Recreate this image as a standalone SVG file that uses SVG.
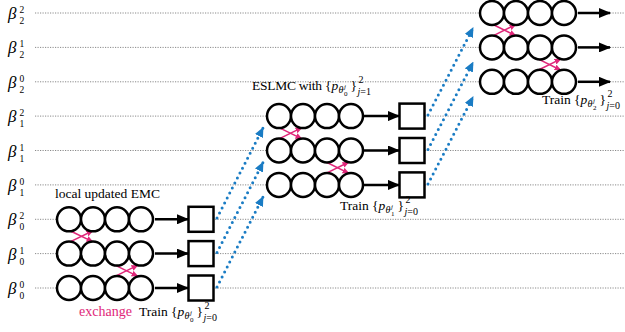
<svg xmlns="http://www.w3.org/2000/svg" width="625" height="332" viewBox="0 0 625 332">
  <style>
    text { font-family: "Liberation Serif", "DejaVu Serif", "Times New Roman", serif; fill: #000; }
    .lbl { font-size: 13.5px; }
    .it { font-style: italic; }
    .b { font-size: 17px; font-style: italic; }
    .bs { font-size: 9.5px; }
    .s { font-size: 10px; }
    .ss { font-size: 7px; }
    .ex { fill: #e0287a; font-size: 14px; }
    .grid { stroke: #8a8a8a; stroke-width: 1; stroke-dasharray: 1.2 1.3; fill: none; }
    .ch circle { fill: #fff; stroke: #000; stroke-width: 2.5; }
    .box { fill: #fff; stroke: #000; stroke-width: 2.5; }
    .go { stroke: #000; stroke-width: 2.5; fill: none; marker-end: url(#blk); }
    .xch { stroke: #e0287a; stroke-width: 1.6; fill: none; marker-end: url(#pnk); }
    .mv { stroke: #1a7cc4; stroke-width: 3; stroke-linecap: round; stroke-dasharray: 0 5.6; fill: none; marker-end: url(#blu); }
  </style>
  <defs>
    <marker id="blk" markerUnits="userSpaceOnUse" markerWidth="12" markerHeight="10" refX="11" refY="5" orient="auto">
      <path d="M0,0 L12,5 L0,10 z" fill="#000"/>
    </marker>
    <marker id="pnk" markerUnits="userSpaceOnUse" markerWidth="7" markerHeight="6" refX="6.5" refY="3" orient="auto">
      <path d="M0,0 L7,3 L0,6 z" fill="#e0287a"/>
    </marker>
    <marker id="blu" markerUnits="userSpaceOnUse" markerWidth="10" markerHeight="9" refX="9" refY="4.5" orient="auto">
      <path d="M0,0 L10,4.5 L0,9 z" fill="#1a7cc4"/>
    </marker>
  </defs>

  <!-- temperature levels -->
  <g id="levels">
    <line class="grid" x1="35" y1="13" x2="625" y2="13"/>
    <line class="grid" x1="35" y1="47.4" x2="625" y2="47.4"/>
    <line class="grid" x1="35" y1="81.8" x2="625" y2="81.8"/>
    <line class="grid" x1="35" y1="116.1" x2="625" y2="116.1"/>
    <line class="grid" x1="35" y1="150.5" x2="625" y2="150.5"/>
    <line class="grid" x1="35" y1="184.9" x2="625" y2="184.9"/>
    <line class="grid" x1="35" y1="219.3" x2="625" y2="219.3"/>
    <line class="grid" x1="35" y1="253.6" x2="625" y2="253.6"/>
    <line class="grid" x1="35" y1="288" x2="625" y2="288"/>
    <g transform="translate(0,13)"><text class="b" x="8" y="6">β</text><text class="bs" x="19.5" y="0">2</text><text class="bs" x="19.5" y="11">2</text></g>
    <g transform="translate(0,47.4)"><text class="b" x="8" y="6">β</text><text class="bs" x="19.5" y="0">1</text><text class="bs" x="19.5" y="11">2</text></g>
    <g transform="translate(0,81.8)"><text class="b" x="8" y="6">β</text><text class="bs" x="19.5" y="0">0</text><text class="bs" x="19.5" y="11">2</text></g>
    <g transform="translate(0,116.1)"><text class="b" x="8" y="6">β</text><text class="bs" x="19.5" y="0">2</text><text class="bs" x="19.5" y="11">1</text></g>
    <g transform="translate(0,150.5)"><text class="b" x="8" y="6">β</text><text class="bs" x="19.5" y="0">1</text><text class="bs" x="19.5" y="11">1</text></g>
    <g transform="translate(0,184.9)"><text class="b" x="8" y="6">β</text><text class="bs" x="19.5" y="0">0</text><text class="bs" x="19.5" y="11">1</text></g>
    <g transform="translate(0,219.3)"><text class="b" x="8" y="6">β</text><text class="bs" x="19.5" y="0">2</text><text class="bs" x="19.5" y="11">0</text></g>
    <g transform="translate(0,253.6)"><text class="b" x="8" y="6">β</text><text class="bs" x="19.5" y="0">1</text><text class="bs" x="19.5" y="11">0</text></g>
    <g transform="translate(0,288)"><text class="b" x="8" y="6">β</text><text class="bs" x="19.5" y="0">0</text><text class="bs" x="19.5" y="11">0</text></g>
  </g>

  <!-- connectors -->
  <g id="connectors">
    <!-- chain to model -->
    <line class="go" x1="155" y1="219.3" x2="188" y2="219.3"/>
    <line class="go" x1="155" y1="253.6" x2="188" y2="253.6"/>
    <line class="go" x1="155" y1="288" x2="188" y2="288"/>
    <line class="go" x1="364" y1="116.1" x2="399" y2="116.1"/>
    <line class="go" x1="364" y1="150.5" x2="399" y2="150.5"/>
    <line class="go" x1="364" y1="184.9" x2="399" y2="184.9"/>
    <line class="go" x1="578" y1="13" x2="610" y2="13"/>
    <line class="go" x1="578" y1="47.4" x2="610" y2="47.4"/>
    <line class="go" x1="578" y1="81.8" x2="610" y2="81.8"/>
    <!-- replica exchanges -->
    <line class="xch" x1="70" y1="241.9" x2="93" y2="230.8"/>
    <line class="xch" x1="70" y1="230.8" x2="93" y2="241.9"/>
    <line class="xch" x1="115" y1="276.4" x2="138" y2="265.1"/>
    <line class="xch" x1="115" y1="265.1" x2="138" y2="276.4"/>
    <line class="xch" x1="279" y1="138.9" x2="302" y2="127.6"/>
    <line class="xch" x1="279" y1="127.6" x2="302" y2="138.9"/>
    <line class="xch" x1="326" y1="173.4" x2="349" y2="162"/>
    <line class="xch" x1="326" y1="162" x2="349" y2="173.4"/>
    <line class="xch" x1="493" y1="35.9" x2="516" y2="24.5"/>
    <line class="xch" x1="493" y1="24.5" x2="516" y2="35.9"/>
    <line class="xch" x1="538" y1="70.3" x2="561" y2="58.9"/>
    <line class="xch" x1="538" y1="58.9" x2="561" y2="70.3"/>
    <!-- trained models passed up a level -->
    <line class="mv" x1="217" y1="218" x2="263" y2="128"/>
    <line class="mv" x1="217" y1="252.5" x2="263" y2="162.5"/>
    <line class="mv" x1="217" y1="287" x2="263" y2="197"/>
    <line class="mv" x1="428" y1="115" x2="473" y2="28"/>
    <line class="mv" x1="428" y1="149.5" x2="473" y2="62.5"/>
    <line class="mv" x1="428" y1="184" x2="473" y2="97"/>
  </g>

  <!-- level 0 chains -->
  <g id="chains0" class="ch">
    <g id="c0-2"><circle cx="69" cy="219.3" r="12"/><circle cx="93" cy="219.3" r="12"/><circle cx="117" cy="219.3" r="12"/><circle cx="141" cy="219.3" r="12"/></g>
    <g id="c0-1"><circle cx="69" cy="253.6" r="12"/><circle cx="93" cy="253.6" r="12"/><circle cx="117" cy="253.6" r="12"/><circle cx="141" cy="253.6" r="12"/></g>
    <g id="c0-0"><circle cx="69" cy="288" r="12"/><circle cx="93" cy="288" r="12"/><circle cx="117" cy="288" r="12"/><circle cx="141" cy="288" r="12"/></g>
  </g>
  <g id="models0">
    <rect id="m0-2" class="box" x="188.5" y="206.8" width="25" height="25"/>
    <rect id="m0-1" class="box" x="188.5" y="241.1" width="25" height="25"/>
    <rect id="m0-0" class="box" x="188.5" y="275.5" width="25" height="25"/>
  </g>

  <!-- level 1 chains -->
  <g id="chains1" class="ch">
    <g id="c1-2"><circle cx="279" cy="116.1" r="12"/><circle cx="303" cy="116.1" r="12"/><circle cx="327" cy="116.1" r="12"/><circle cx="351" cy="116.1" r="12"/></g>
    <g id="c1-1"><circle cx="279" cy="150.5" r="12"/><circle cx="303" cy="150.5" r="12"/><circle cx="327" cy="150.5" r="12"/><circle cx="351" cy="150.5" r="12"/></g>
    <g id="c1-0"><circle cx="279" cy="184.9" r="12"/><circle cx="303" cy="184.9" r="12"/><circle cx="327" cy="184.9" r="12"/><circle cx="351" cy="184.9" r="12"/></g>
  </g>
  <g id="models1">
    <rect id="m1-2" class="box" x="399.5" y="103.6" width="25" height="25"/>
    <rect id="m1-1" class="box" x="399.5" y="138" width="25" height="25"/>
    <rect id="m1-0" class="box" x="399.5" y="172.4" width="25" height="25"/>
  </g>

  <!-- level 2 chains -->
  <g id="chains2" class="ch">
    <g id="c2-2"><circle cx="492" cy="13" r="12"/><circle cx="516" cy="13" r="12"/><circle cx="540" cy="13" r="12"/><circle cx="564" cy="13" r="12"/></g>
    <g id="c2-1"><circle cx="492" cy="47.4" r="12"/><circle cx="516" cy="47.4" r="12"/><circle cx="540" cy="47.4" r="12"/><circle cx="564" cy="47.4" r="12"/></g>
    <g id="c2-0"><circle cx="492" cy="81.8" r="12"/><circle cx="516" cy="81.8" r="12"/><circle cx="540" cy="81.8" r="12"/><circle cx="564" cy="81.8" r="12"/></g>
  </g>

  <!-- captions -->
  <g id="captions">
    <text class="lbl" x="55" y="198">local updated EMC</text>
    <text class="ex" x="79" y="316">exchange</text>

    <g transform="translate(139,316)">
      <text class="lbl" x="0" y="0">Train</text>
      <text class="lbl" x="32" y="0">{</text>
      <text class="lbl it" x="38.5" y="0">p</text>
      <text class="s it" x="45.5" y="3">θ</text>
      <text class="ss it" x="51" y="-1">j</text>
      <text class="ss" x="51" y="6">0</text>
      <text class="lbl" x="57.5" y="0">}</text>
      <text class="s" x="65.5" y="-7">2</text>
      <text class="s" x="64.5" y="5"><tspan class="it">j</tspan>=0</text>
    </g>

    <g transform="translate(252,90)">
      <text class="lbl" x="0" y="0" textLength="70">ESLMC with</text>
      <text class="lbl" x="73" y="0">{</text>
      <text class="lbl it" x="79.5" y="0">p</text>
      <text class="s it" x="86.5" y="3">θ</text>
      <text class="ss it" x="92" y="-1">j</text>
      <text class="ss" x="92" y="6">0</text>
      <text class="lbl" x="98.5" y="0">}</text>
      <text class="s" x="106.5" y="-7">2</text>
      <text class="s" x="105.5" y="5"><tspan class="it">j</tspan>=1</text>
    </g>

    <g transform="translate(340,210)">
      <text class="lbl" x="0" y="0">Train</text>
      <text class="lbl" x="32" y="0">{</text>
      <text class="lbl it" x="38.5" y="0">p</text>
      <text class="s it" x="45.5" y="3">θ</text>
      <text class="ss it" x="51" y="-1">j</text>
      <text class="ss" x="51" y="6">1</text>
      <text class="lbl" x="57.5" y="0">}</text>
      <text class="s" x="65.5" y="-7">2</text>
      <text class="s" x="64.5" y="5"><tspan class="it">j</tspan>=0</text>
    </g>

    <g transform="translate(542,104)">
      <text class="lbl" x="0" y="0">Train</text>
      <text class="lbl" x="32" y="0">{</text>
      <text class="lbl it" x="38.5" y="0">p</text>
      <text class="s it" x="45.5" y="3">θ</text>
      <text class="ss it" x="51" y="-1">j</text>
      <text class="ss" x="51" y="6">2</text>
      <text class="lbl" x="57.5" y="0">}</text>
      <text class="s" x="65.5" y="-7">2</text>
      <text class="s" x="64.5" y="5"><tspan class="it">j</tspan>=0</text>
    </g>
  </g>
</svg>
